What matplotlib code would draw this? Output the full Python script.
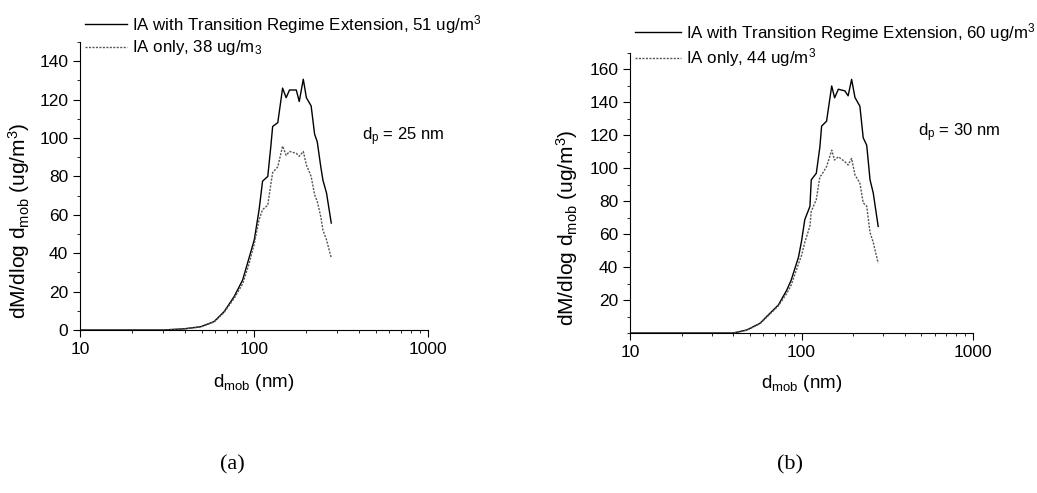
import numpy as np
import matplotlib
matplotlib.use("Agg")
import matplotlib.pyplot as plt
from matplotlib.ticker import MultipleLocator, LogLocator, NullFormatter, FixedLocator

# panel (a), d_p = 25 nm
d_mob_a = [10, 20, 30, 39.5, 49.4, 59, 67.4, 76.9, 86, 94, 100.4, 107, 112, 120, 125, 128,
           137, 146, 153, 160, 175, 182, 192, 200, 213, 223, 231, 242, 249, 261, 278]
ext_a = [0, 0, 0, 0.6, 1.7, 4.4, 9.6, 17.4, 26, 38, 47, 62.7, 77.5, 80, 95.8, 106,
         108, 126, 121, 125, 125, 119, 130.6, 121, 116.7, 102, 98, 85, 78, 71.4, 55.7]
ia_a = [0, 0, 0, 0.5, 1.6, 4.2, 9.2, 16.5, 24, 35, 45, 57.5, 62.7, 65, 76, 82,
        85, 95.8, 91, 93, 92, 90.5, 93, 86, 80, 70.5, 67, 59, 52, 47, 37.5]

# panel (b), d_p = 30 nm
d_mob_b = [10, 20, 30, 40, 47.9, 57.3, 65.5, 73.3, 82, 87, 96, 100, 104.5, 112, 114, 122,
           128, 131, 140, 150, 156, 164, 179, 187, 196, 205, 219, 229, 240, 251, 262, 280]
ext_b = [0, 0, 0, 0, 1.8, 5.9, 12, 17, 26, 32, 46, 55.6, 68.8, 76.9, 93, 97,
         113, 125.6, 128.6, 150, 142.8, 148, 147, 144, 154, 143, 137.7, 118.5, 114, 93, 85, 64.7]
ia_b = [0, 0, 0, 0, 1.7, 5.6, 11.5, 16.5, 24, 29, 42, 47, 55, 65, 73.8, 81,
        95, 96, 101, 111, 105, 107, 104, 102, 106, 96, 91, 79, 77, 61, 55, 42.4]

plt.rcParams['font.family'] = ['Liberation Sans', 'DejaVu Sans']
plt.rcParams['mathtext.fontset'] = 'custom'
plt.rcParams['mathtext.rm'] = 'Liberation Sans'
plt.rcParams['mathtext.it'] = 'Liberation Sans:italic'

fig = plt.figure(figsize=(10.37, 4.93), dpi=100)
W, H = 1037.0, 493.0

def make_axes(x0, x1, ybot, ytop):
    return fig.add_axes([x0 / W, 1 - ybot / H, (x1 - x0) / W, (ybot - ytop) / H])

ax1 = make_axes(80, 428, 330, 42)
ax2 = make_axes(630, 973, 333, 53)

panels = [
    (ax1, d_mob_a, ext_a, ia_a, 150, np.arange(0, 141, 20),
     ["IA with Transition Regime Extension, 51 ug/m$^3$", "IA only, 38 ug/m$_3$"],
     (85, 13), 2.5, r"d$_\mathrm{p}$ = 25 nm", (362, 137), (232, 465), "(a)",
     (-0.138, 0.378), (0.5, -0.146)),
    (ax2, d_mob_b, ext_b, ia_b, 170, np.arange(20, 161, 20),
     ["IA with Transition Regime Extension, 60 ug/m$^3$", "IA only, 44 ug/m$^3$"],
     (635, 21), 2.7, r"d$_\mathrm{p}$ = 30 nm", (918, 133), (790, 465), "(b)",
     (-0.146, 0.375), (0.5, -0.143)),
]

for ax, x, y1, y2, ytop, yt, labels, lpos, hl, note, npos, tpos, tag, ylc, xlc in panels:
    ax.plot(x, y1, color='black', linewidth=1.0, label=labels[0])
    ax.plot(x, y2, color='#555555', linewidth=1.0, linestyle=(0, (1.5, 1)), label=labels[1])
    ax.set_xscale('log')
    ax.set_xlim(10, 1000)
    ax.set_ylim(0, ytop)
    ax.spines['top'].set_visible(False)
    ax.spines['right'].set_visible(False)
    ax.yaxis.set_major_locator(FixedLocator(yt))
    ax.yaxis.set_minor_locator(MultipleLocator(10))
    ax.xaxis.set_minor_locator(LogLocator(base=10, subs=np.arange(2, 10)))
    ax.xaxis.set_minor_formatter(NullFormatter())
    ax.set_xticks([10, 100, 1000])
    ax.set_xticklabels(['10', '100', '1000'])
    ax.tick_params(which='major', direction='out', length=5, width=0.8, labelsize=12.5)
    ax.tick_params(which='minor', direction='out', length=2.5, width=0.6)
    ax.set_xlabel(r"d$_\mathrm{mob}$ (nm)", fontsize=13.5)
    ax.set_ylabel(r"dM/dlog d$_\mathrm{mob}$ (ug/m$^3$)", fontsize=15)
    ax.xaxis.set_label_coords(*xlc)
    ax.yaxis.set_label_coords(*ylc)
    ax.legend(loc='upper left', bbox_to_anchor=(lpos[0] / W, 1 - lpos[1] / H),
              bbox_transform=fig.transFigure, frameon=False, fontsize=12.2,
              handlelength=hl, handletextpad=0.3, labelspacing=0.15,
              borderpad=0, borderaxespad=0)
    fig.text(npos[0] / W, 1 - npos[1] / H, note, fontsize=12, va='center', ha='left')
    fig.text(tpos[0] / W, 1 - tpos[1] / H, tag, fontsize=16, va='center', ha='center',
             family='Liberation Serif')

fig.savefig("out.png", dpi=100)
